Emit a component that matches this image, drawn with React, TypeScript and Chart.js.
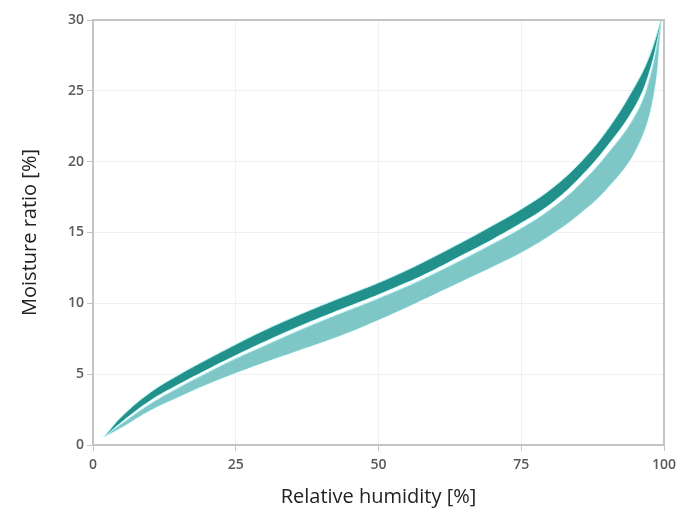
import React, { useEffect, useRef } from "react";
import { Chart, registerables } from "chart.js";

Chart.register(...registerables);

const xTicks = [0, 25, 50, 75, 100];
const yTicks = [0, 5, 10, 15, 20, 25, 30];

const humidity = [2, 5, 10, 15, 20, 25, 30, 35, 40, 45, 50, 55, 60, 65, 70, 75, 80, 85, 90, 95, 97.5, 99.5];
const darkTop = [0.6, 2.0, 3.7, 4.95, 6.05, 7.1, 8.1, 9.0, 9.85, 10.65, 11.45, 12.35, 13.35, 14.4, 15.5, 16.65, 18.0, 19.8, 22.2, 25.4, 27.5, 30];
const darkBottom = [0.6, 1.65, 3.15, 4.3, 5.35, 6.35, 7.3, 8.2, 9.05, 9.85, 10.65, 11.5, 12.45, 13.5, 14.55, 15.7, 17.0, 18.8, 21.1, 24.0, 26.5, 30];
const lightTop = [0.6, 1.5, 2.9, 4.05, 5.1, 6.1, 7.0, 7.9, 8.75, 9.55, 10.35, 11.2, 12.15, 13.15, 14.2, 15.3, 16.6, 18.3, 20.5, 23.3, 25.9, 30];

const humidityLow = [2, 5, 10, 15, 20, 25, 30, 35, 40, 45, 50, 55, 60, 65, 70, 75, 80, 85, 90, 95, 98, 99.5];
const lightBottom = [0.6, 1.25, 2.45, 3.4, 4.3, 5.1, 5.85, 6.55, 7.25, 8.0, 8.85, 9.75, 10.7, 11.65, 12.6, 13.6, 14.8, 16.25, 18.1, 20.8, 24.4, 30];

const pts = (xs: number[], ys: number[]) => xs.map((x, i) => ({ x, y: ys[i] }));

const DARK = "#22918c";
const LIGHT = "#7fc7c7";
const EDGE = "#aeeeee";

const frame = {
  id: "frame",
  afterDatasetsDraw(chart: any) {
    const { ctx, chartArea } = chart;
    ctx.save();
    ctx.strokeStyle = "#c4c4c4";
    ctx.lineWidth = 2;
    ctx.strokeRect(chartArea.left, chartArea.top, chartArea.right - chartArea.left, chartArea.bottom - chartArea.top);
    ctx.restore();
  },
};

export default function App() {
  const ref = useRef<HTMLCanvasElement>(null);
  useEffect(() => {
    if (!ref.current) return;
    const line = (data: any, fill: any, bg: string) => ({
      data,
      borderColor: EDGE,
      borderWidth: 1,
      backgroundColor: bg,
      fill,
      pointRadius: 0,
      tension: 0.4,
    });
    const chart = new Chart(ref.current, {
      type: "line",
      data: {
        datasets: [
          line(pts(humidity, darkTop), "+1", DARK),
          line(pts(humidity, darkBottom), false, DARK),
          line(pts(humidity, lightTop), "+1", LIGHT),
          line(pts(humidityLow, lightBottom), false, LIGHT),
        ],
      },
      options: {
        animation: false,
        responsive: true,
        maintainAspectRatio: false,
        layout: { padding: { left: 0, right: 19, top: 20, bottom: 0 } },
        plugins: { legend: { display: false }, tooltip: { enabled: false } },
        scales: {
          x: {
            type: "linear",
            min: 0,
            max: 100,
            afterBuildTicks: (s: any) => {
              s.ticks = xTicks.map((v) => ({ value: v }));
            },
            afterFit: (s: any) => {
              s.height = 71;
            },
            grid: { color: "#f0f0f0", tickColor: "#c4c4c4", tickLength: 6, drawOnChartArea: true },
            border: { display: false },
            ticks: {
              color: "#5a5a5a",
              padding: 6,
              font: { family: "Open Sans", size: 14, weight: "600" },
            },
            title: {
              display: true,
              text: "Relative humidity [%]",
              color: "#222222",
              padding: { top: 0, bottom: 7 },
              font: { family: "Open Sans", size: 20 },
            },
          },
          y: {
            type: "linear",
            min: 0,
            max: 30,
            afterBuildTicks: (s: any) => {
              s.ticks = yTicks.map((v) => ({ value: v }));
            },
            afterFit: (s: any) => {
              s.width = 93;
            },
            grid: { color: "#f0f0f0", tickColor: "#c4c4c4", tickLength: 6 },
            border: { display: false },
            ticks: {
              color: "#5a5a5a",
              padding: 3,
              font: { family: "Open Sans", size: 14, weight: "600" },
            },
            title: {
              display: true,
              text: "Moisture ratio [%]",
              color: "#222222",
              padding: { top: 18, bottom: 0 },
              font: { family: "Open Sans", size: 20 },
            },
          },
        },
      },
      plugins: [frame],
    });
    return () => chart.destroy();
  }, []);
  return (
    <div style={{ position: "fixed", left: 0, top: 0, width: 683, height: 516, background: "#ffffff" }}>
      <canvas ref={ref} />
    </div>
  );
}
